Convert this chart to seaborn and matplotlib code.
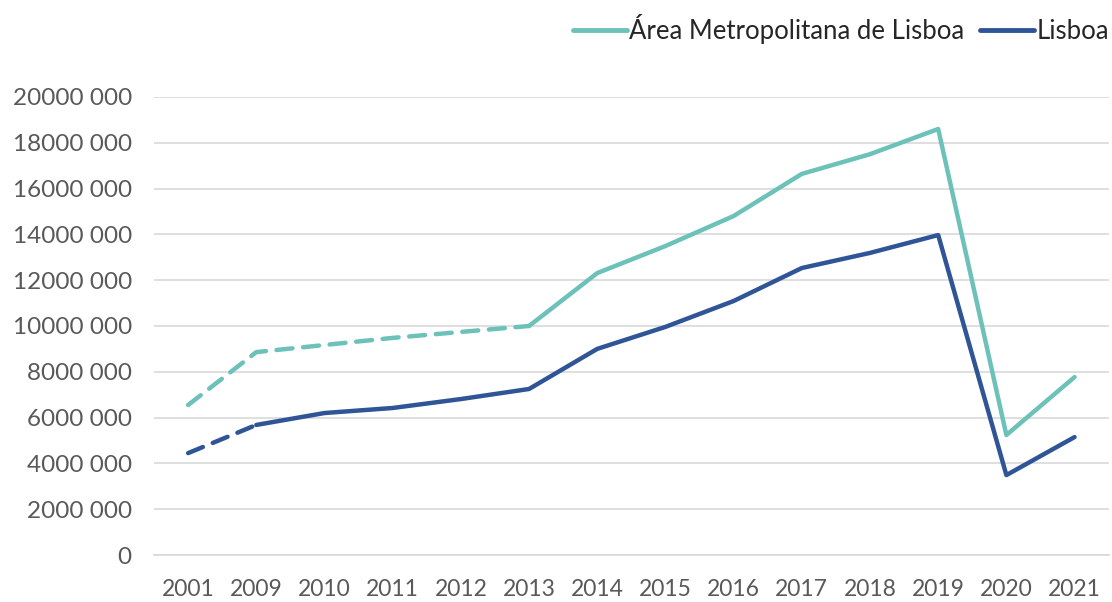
import numpy as np
import pandas as pd
import seaborn as sns
import matplotlib.pyplot as plt
from matplotlib.lines import Line2D
from matplotlib.ticker import FuncFormatter

years = ['2001', '2009', '2010', '2011', '2012', '2013', '2014', '2015',
         '2016', '2017', '2018', '2019', '2020', '2021']
aml = [6.55, 8.86, 9.17, 9.48, 9.74, 10.0, 12.31, 13.49, 14.8, 16.64,
       17.5, 18.6, 5.24, 7.77]
lisboa = [4.45, 5.68, 6.2, 6.42, 6.81, 7.25, 9.0, 9.96, 11.09, 12.53,
          13.19, 13.97, 3.49, 5.15]
# last year of the dashed part for each series
aml_dash_end = '2013'
lisboa_dash_end = '2009'

teal = '#6CC2B8'
navy = '#2F5597'

sns.set_theme(style='white')
plt.rcParams['font.family'] = ['Lato', 'DejaVu Sans']

df = pd.DataFrame({'x': np.arange(len(years)),
                   'aml': np.array(aml) * 1e6,
                   'lisboa': np.array(lisboa) * 1e6})

fig = plt.figure(figsize=(11.12, 6.02), dpi=100)
ax = fig.add_axes([0.1385, 0.078, 0.8585, 0.761])

for col, color, cut in [('aml', teal, years.index(aml_dash_end)),
                        ('lisboa', navy, years.index(lisboa_dash_end))]:
    sns.lineplot(data=df[df.x <= cut], x='x', y=col, ax=ax, color=color,
                 lw=3.2, linestyle=(0, (3.6, 2.4)), solid_capstyle='round',
                 dash_capstyle='round')
    sns.lineplot(data=df[df.x >= cut], x='x', y=col, ax=ax, color=color,
                 lw=3.2, solid_capstyle='round')

ax.set_xlim(-0.5, len(years) - 0.5)
ax.set_ylim(0, 20e6)
ax.set_yticks(np.arange(0, 20e6 + 1, 2e6))
ax.yaxis.set_major_formatter(FuncFormatter(
    lambda v, p: '0' if v == 0 else f'{int(v // 1000)} {int(v % 1000):03d}'))
ax.set_xticks(df.x)
ax.set_xticklabels(years)
ax.grid(axis='y', color='#D9D9D9', lw=1.2)
ax.set_axisbelow(True)
for s in ['top', 'right', 'left']:
    ax.spines[s].set_visible(False)
ax.spines['bottom'].set_color('#D9D9D9')
ax.tick_params(axis='x', labelsize=16.5, labelcolor='#595959', length=0,
               pad=17)
ax.tick_params(axis='y', labelsize=17.5, labelcolor='#595959', length=0,
               pad=16)
ax.set_xlabel('')
ax.set_ylabel('')

handles = [Line2D([0], [0], color=teal, lw=3.5),
           Line2D([0], [0], color=navy, lw=3.5)]
fig.legend(handles, ['Área Metropolitana de Lisboa', 'Lisboa'],
           loc='upper right', bbox_to_anchor=(1.018, 1.015), ncol=2,
           frameon=False, fontsize=18.5, handlelength=2.1, handletextpad=0.1,
           columnspacing=0.6)

fig.savefig('out.png', dpi=100)
